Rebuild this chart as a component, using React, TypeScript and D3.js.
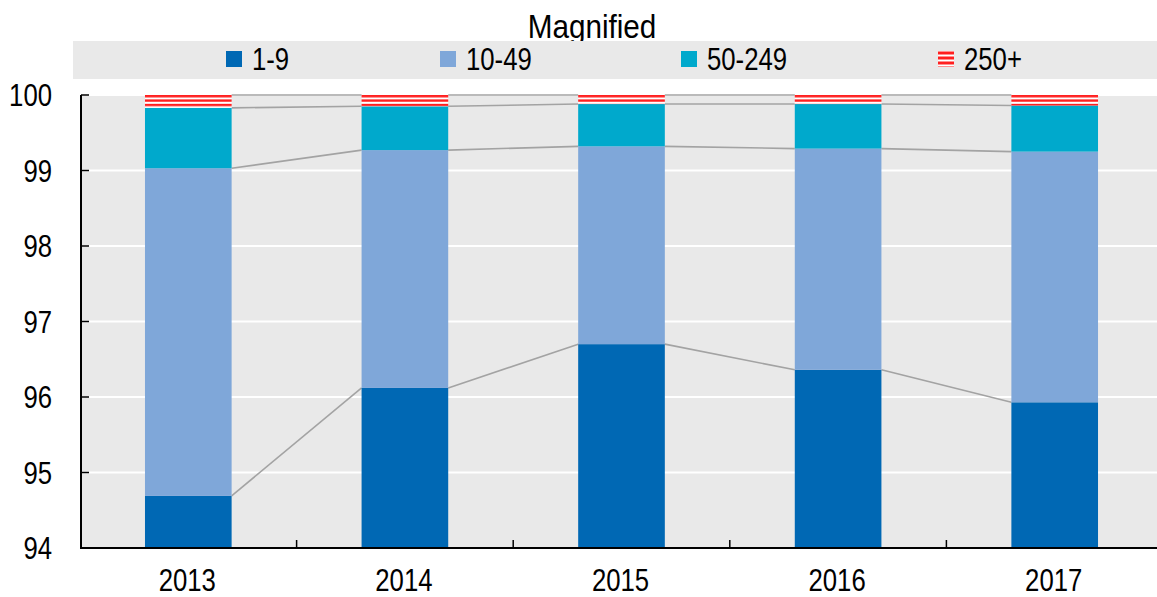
import React from "react";
import * as d3 from "d3";

const years = ["2013", "2014", "2015", "2016", "2017"];
const s1_9 = [94.69, 96.12, 96.7, 96.36, 95.93];
const s10_49 = [4.34, 3.15, 2.62, 2.93, 3.32];
const s50_249 = [0.8, 0.58, 0.56, 0.59, 0.61];
const s250 = [0.17, 0.15, 0.12, 0.12, 0.14];
const seriesNames = ["1-9", "10-49", "50-249", "250+"];
const yTicks = [94, 95, 96, 97, 98, 99, 100];

const colors = ["#0068b4", "#7fa7d9", "#00a9cc", "url(#stripes)"];
const FONT = "'Liberation Sans', Arial, sans-serif";
const SX = 0.83;
const FS = 31;

function T({ x, y, anchor, children, fs, sx }: { x: number; y: number; anchor?: string; children: any; fs?: number; sx?: number }) {
  return (
    <text
      transform={`translate(${x},${y}) scale(${sx || SX},1)`}
      textAnchor={anchor || "start"}
      fontFamily={FONT}
      fontSize={fs || FS}
      fill="#000"
    >
      {children}
    </text>
  );
}

export default function App() {
  const W = 1157, H = 597;
  const left = 81, right = 1157, top = 95, bottom = 548;
  const x = d3.scaleBand<string>().domain(years).range([80, 1163]).paddingInner(0).paddingOuter(0);
  const bw = x.bandwidth() * 0.4;
  const y = d3.scaleLinear().domain([94, 100]).range([bottom, top]);
  const series = [s1_9, s10_49, s50_249, s250];
  const stacks = years.map((_, i) => {
    let acc = 0;
    return series.map((s) => {
      const y0 = acc;
      acc += s[i];
      return [y0, acc];
    });
  });
  const bx = (i: number) => (x(years[i]) as number) + (x.bandwidth() - bw) / 2;
  const legendX = [226, 440, 681, 938];

  return (
    <svg width={W} height={H} style={{ position: "absolute", left: 0, top: 0, background: "#fff" }}>
      <defs>
        <pattern id="stripes" patternUnits="userSpaceOnUse" width="8" height="4.4" y={top}>
          <rect x="0" y="0" width="8" height="4.4" fill="#ffffff" />
          <rect x="0" y="0" width="8" height="2.4" fill="#ff1f1f" />
        </pattern>
        <pattern id="legstripes" patternUnits="userSpaceOnUse" width="8" height="5" y={51}>
          <rect x="0" y="0" width="8" height="5" fill="#ffffff" />
          <rect x="0" y="0.5" width="8" height="3" fill="#ff1f1f" />
        </pattern>
        <clipPath id="plotclip">
          <rect x={left} y={top - 1} width={right - left} height={bottom - top + 1} />
        </clipPath>
      </defs>
      <T x={592} y={38} anchor="middle" fs={33} sx={0.9}>Magnified</T>
      <rect x={73} y={41} width={W - 73} height={38} fill="#e9e9e9" />
      {seriesNames.map((n, k) => (
        <g key={n}>
          <rect x={legendX[k]} y={51} width={16} height={16} fill={k === 3 ? "url(#legstripes)" : colors[k]} />
          <T x={legendX[k] + 26} y={70}>{n}</T>
        </g>
      ))}
      <rect x={left} y={top} width={right - left} height={bottom - top} fill="#e9e9e9" />
      <g clipPath="url(#plotclip)">
        {yTicks.map((t) => (
          <line key={t} x1={left} x2={right} y1={y(t)} y2={y(t)} stroke="#fff" strokeWidth={2} />
        ))}
        {years.slice(0, -1).map((_, i) =>
          [0, 1, 2, 3].map((k) => (
            <line
              key={i + "-" + k}
              x1={bx(i) + bw}
              y1={y(stacks[i][k][1])}
              x2={bx(i + 1)}
              y2={y(stacks[i + 1][k][1])}
              stroke="#a3a3a3"
              strokeWidth={1.6}
            />
          ))
        )}
        {years.map((yr, i) =>
          stacks[i].map(([a, b], k) => (
            <rect
              key={yr + k}
              x={bx(i)}
              y={y(Math.min(b, 100))}
              width={bw}
              height={Math.max(0, y(a) - y(Math.min(b, 100)))}
              fill={colors[k]}
            />
          ))
        )}
      </g>
      <line x1={left} x2={left} y1={top} y2={bottom + 1} stroke="#000" strokeWidth={2} />
      <line x1={left - 1} x2={right} y1={bottom} y2={bottom} stroke="#000" strokeWidth={2} />
      {yTicks.map((t) => (
        <g key={t}>
          <line x1={left} x2={left + 8} y1={y(t)} y2={y(t)} stroke="#000" strokeWidth={1.5} />
          <T x={52} y={y(t) + 11} anchor="end">{t}</T>
        </g>
      ))}
      {years.slice(1).map((yr) => (
        <line key={yr} x1={x(yr) as number} x2={x(yr) as number} y1={bottom} y2={bottom - 8} stroke="#000" strokeWidth={1.5} />
      ))}
      {years.map((yr) => (
        <T key={yr} x={(x(yr) as number) + x.bandwidth() / 2 - 1} y={591} anchor="middle">{yr}</T>
      ))}
    </svg>
  );
}
